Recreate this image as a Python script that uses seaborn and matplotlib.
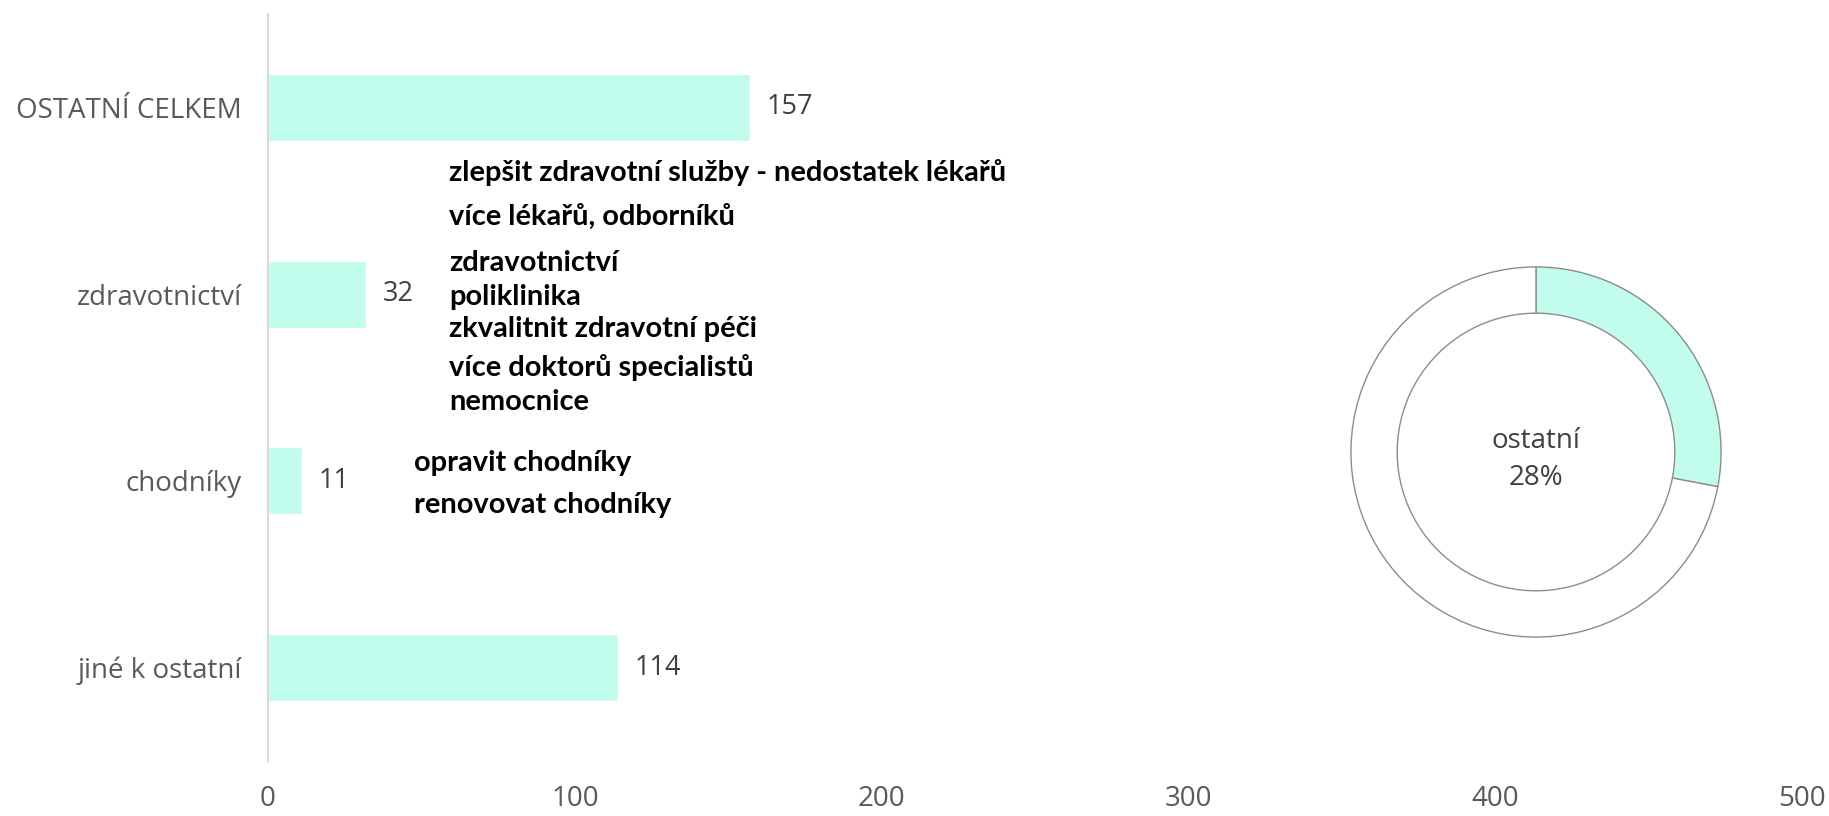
import matplotlib
matplotlib.use('Agg')
import matplotlib.pyplot as plt
import seaborn as sns
import pandas as pd

# data
categories = ['OSTATNÍ CELKEM', 'zdravotnictví', 'chodníky', 'jiné k ostatní']
counts = [157, 32, 11, 114]
xticks = [0, 100, 200, 300, 400, 500]

health_notes = ['zlepšit zdravotní služby - nedostatek lékařů',
                'více lékařů, odborníků',
                'zdravotnictví',
                'poliklinika',
                'zkvalitnit zdravotní péči',
                'více doktorů specialistů',
                'nemocnice']
sidewalk_notes = ['opravit chodníky', 'renovovat chodníky']

donut_label = 'ostatní'
donut_share = [28, 72]

mint = '#C2FCEC'
grey = '#595959'
dark = '#404040'

sns.set_style('white')
plt.rcParams['font.family'] = ['Open Sans', 'DejaVu Sans']

fig = plt.figure(figsize=(18.29, 8.16), dpi=100)
ax = fig.add_axes([268 / 1829, 55 / 816, 1534 / 1829, 747 / 816])

df = pd.DataFrame({'cat': categories, 'n': counts})
sns.barplot(data=df, x='n', y='cat', orient='h', color=mint, width=0.36,
            saturation=1, ax=ax)
ax.bar_label(ax.containers[0], padding=12, fontsize=19.5, color=dark)

ax.set_xlim(0, 500)
ax.set_ylim(3.5, -0.5)
ax.set_xticks(xticks)
ax.set_xlabel('')
ax.set_ylabel('')
ax.tick_params(axis='x', length=0, pad=17, labelsize=20, labelcolor=grey)
ax.tick_params(axis='y', length=0, pad=19, labelsize=20, labelcolor=grey)
for s in ['top', 'right', 'bottom']:
    ax.spines[s].set_visible(False)
ax.spines['left'].set_color('#d9d9d9')
ax.spines['left'].set_linewidth(1.5)

# comment lists next to bars
note_font = dict(fontsize=20.9, fontweight='bold', color='black', va='center',
                 family=['Lato', 'DejaVu Sans'])
health_y = [0.348, 0.585, 0.835, 1.015, 1.185, 1.395, 1.575]
for txt, yy in zip(health_notes, health_y):
    ax.text(59, yy, txt, **note_font)
sidewalk_y = [1.905, 2.13]
for txt, yy in zip(sidewalk_notes, sidewalk_y):
    ax.text(47.5, yy, txt, **note_font)

# donut
ax2 = fig.add_axes([(1536 - 186) / 1829, (816 - 452 - 186) / 816, 372 / 1829, 372 / 816])
ax2.pie(donut_share, colors=[mint, 'white'], startangle=90, counterclock=False,
        radius=1, wedgeprops=dict(width=0.25, edgecolor='#8c8c8c', linewidth=1))
ax2.set_xlim(-1.005, 1.005)
ax2.set_ylim(-1.005, 1.005)
ax2.set_aspect('equal')
ax2.axis('off')
ax2.text(0, -0.04, f'{donut_label}\n{donut_share[0]}%', ha='center', va='center',
         fontsize=20, color=dark, linespacing=1.45)

fig.savefig('out.png', dpi=100)
